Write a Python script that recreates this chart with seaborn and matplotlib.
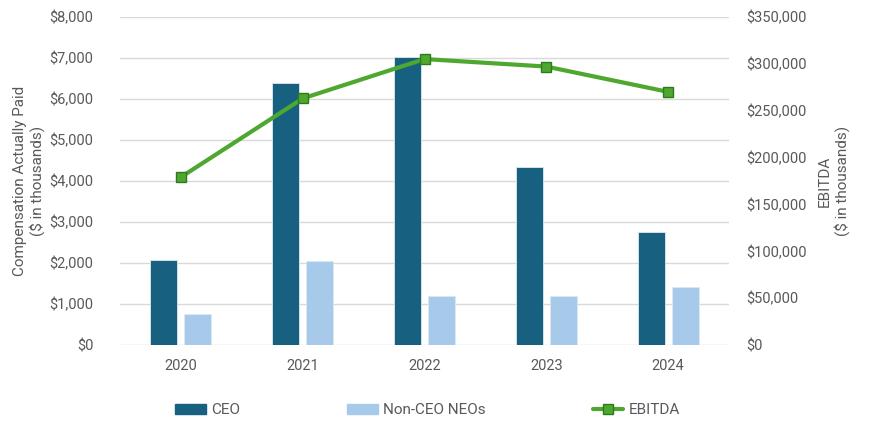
import matplotlib
matplotlib.use("Agg")
import matplotlib.pyplot as plt
import seaborn as sns
import pandas as pd
from matplotlib.patches import Patch
from matplotlib.lines import Line2D
from matplotlib.ticker import FuncFormatter, MultipleLocator

years = ["2020", "2021", "2022", "2023", "2024"]
ceo = [2075, 6400, 7020, 4330, 2750]
non_ceo = [750, 2050, 1200, 1200, 1420]
ebitda = [179000, 263000, 305000, 297000, 270000]

CEO_COLOR = "#17607F"
NEO_COLOR = "#A7CAEB"
LINE_COLOR = "#4EA72E"
EDGE_GREEN = "#2E7A1E"
TEXT = "#595959"
GRID = "#D9D9D9"

sns.set_theme(style="white")
plt.rcParams["font.family"] = ["Roboto", "DejaVu Sans"]

df = pd.DataFrame({
    "Year": years * 2,
    "Value": ceo + non_ceo,
    "Series": ["CEO"] * len(years) + ["Non-CEO NEOs"] * len(years),
})
df_line = pd.DataFrame({"Year": years, "EBITDA": ebitda})

fig = plt.figure(figsize=(8.69, 4.22), dpi=100)
ax = fig.add_axes([0.138, 0.1825, 0.701, 0.7775])

sns.barplot(data=df, x="Year", y="Value", hue="Series",
            palette=[CEO_COLOR, NEO_COLOR], width=0.557, gap=0.21,
            saturation=1, edgecolor="#DDE8F0", linewidth=0.6, ax=ax,
            legend=False)

ax.set_ylim(0, 8000)
ax.yaxis.set_major_locator(MultipleLocator(1000))
ax.yaxis.set_major_formatter(FuncFormatter(lambda v, p: f"${v:,.0f}"))
ax.set_xlim(-0.5, 4.5)
ax.grid(axis="y", color=GRID, linewidth=1)
ax.set_axisbelow(True)
for s in ax.spines.values():
    s.set_visible(False)
ax.tick_params(axis="both", length=0, labelsize=10.5, colors=TEXT)
ax.tick_params(axis="y", pad=19)
ax.tick_params(axis="x", pad=10)
ax.set_xlabel("")
ax.set_ylabel("Compensation Actually Paid\n($ in thousands)", fontsize=11,
              color=TEXT, labelpad=3)

ax2 = ax.twinx()
sns.pointplot(data=df_line, x="Year", y="EBITDA", color=LINE_COLOR,
              markers="s", linestyles="-", ax=ax2,
              markersize=7, markeredgecolor=EDGE_GREEN, markeredgewidth=1,
              linewidth=3)
ax2.set_ylim(0, 350000)
ax2.yaxis.set_major_locator(MultipleLocator(50000))
ax2.yaxis.set_major_formatter(FuncFormatter(lambda v, p: f"${v:,.0f}"))
ax2.set_xlim(-0.5, 4.5)
for s in ax2.spines.values():
    s.set_visible(False)
ax2.tick_params(axis="y", length=0, labelsize=10.5, colors=TEXT, pad=12)
ax2.set_ylabel("EBITDA\n($ in thousands)", fontsize=11, color=TEXT,
               labelpad=8)
ax2.set_xlabel("")

handles = [
    Patch(facecolor=CEO_COLOR, edgecolor=CEO_COLOR),
    Patch(facecolor=NEO_COLOR, edgecolor=NEO_COLOR),
    Line2D([0], [0], color=LINE_COLOR, linewidth=3, marker="s",
           markersize=7, markerfacecolor=LINE_COLOR,
           markeredgecolor=EDGE_GREEN),
]
fig.legend(handles, ["CEO", "Non-CEO NEOs", "EBITDA"], loc="center",
           bbox_to_anchor=(0.492, 0.028), ncol=3, frameon=False,
           fontsize=11, labelcolor=TEXT, handlelength=2.0,
           handleheight=0.6, handletextpad=0.35, columnspacing=7.0)

fig.savefig("out.png", dpi=100)
